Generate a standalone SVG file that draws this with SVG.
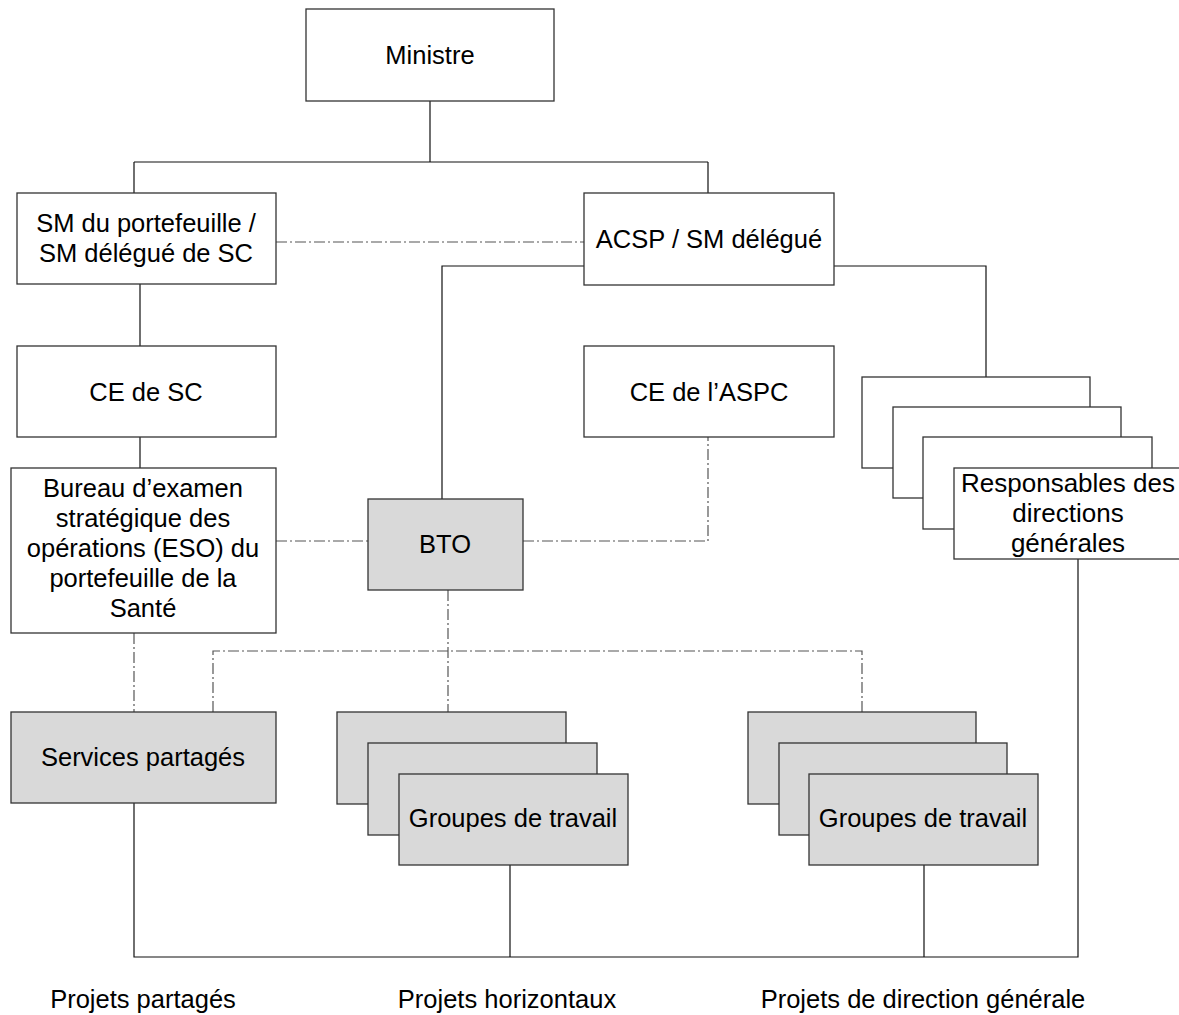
<svg xmlns="http://www.w3.org/2000/svg" width="1179" height="1015" viewBox="0 0 1179 1015">
<style>
.box{fill:#ffffff;stroke:#333333;stroke-width:1.3}
.g{fill:#d9d9d9;stroke:#333333;stroke-width:1.3}
.t{font-family:"Liberation Sans",Arial,sans-serif;font-size:25.5px;fill:#000000;text-anchor:middle}
.ln{fill:none;stroke:#111111;stroke-width:1.2}
.dd{fill:none;stroke:#555555;stroke-width:1.2;stroke-dasharray:11 3 2 3}
</style>
<rect width="1179" height="1015" fill="#ffffff"/>
<g id="connectors">
<path class="ln" d="M430 101V162M134 162H708M134 162V193M708 162V193"/>
<path class="ln" d="M140 284V346M140 437V468"/>
<path class="ln" d="M584 266H442V499M834 266H986V377"/>
<path class="ln" d="M134 803V957H1078V559M510 865V957M924 865V957"/>
<path class="dd" d="M276 242H584"/>
<path class="dd" d="M276 541H368M523 541H708V437"/>
<path class="dd" d="M448 590V712M134 633V712M213 712V651H862V712"/>
</g>
<g id="ministre"><rect class="box" x="306" y="9" width="248" height="92"/><text class="t" x="430" y="64">Ministre</text></g>
<g id="sm"><rect class="box" x="17" y="193" width="259" height="91"/><text class="t" x="146" y="232">SM du portefeuille /</text><text class="t" x="146" y="262">SM délégué de SC</text></g>
<g id="acsp"><rect class="box" x="584" y="193" width="250" height="92"/><text class="t" x="709" y="248">ACSP / SM délégué</text></g>
<g id="ce-sc"><rect class="box" x="17" y="346" width="259" height="91"/><text class="t" x="146" y="401">CE de SC</text></g>
<g id="ce-aspc"><rect class="box" x="584" y="346" width="250" height="91"/><text class="t" x="709" y="401">CE de l’ASPC</text></g>
<g id="bureau"><rect class="box" x="11" y="468" width="265" height="165"/>
<text class="t" x="143" y="497">Bureau d’examen</text>
<text class="t" x="143" y="527">stratégique des</text>
<text class="t" x="143" y="557">opérations (ESO) du</text>
<text class="t" x="143" y="587">portefeuille de la</text>
<text class="t" x="143" y="617">Santé</text></g>
<g id="bto"><rect class="g" x="368" y="499" width="155" height="91"/><text class="t" x="445" y="553">BTO</text></g>
<g id="responsables">
<rect class="box" x="862" y="377" width="228" height="91"/>
<rect class="box" x="893" y="407" width="228" height="91"/>
<rect class="box" x="923" y="437" width="229" height="92"/>
<rect class="box" x="954" y="468" width="230" height="91"/>
<text class="t" x="1068" y="492" style="font-size:26px">Responsables des</text>
<text class="t" x="1068" y="522" style="font-size:26px">directions</text>
<text class="t" x="1068" y="552" style="font-size:26px">générales</text></g>
<g id="services"><rect class="g" x="11" y="712" width="265" height="91"/><text class="t" x="143" y="766">Services partagés</text></g>
<g id="groupes-h">
<rect class="g" x="337" y="712" width="229" height="92"/>
<rect class="g" x="368" y="743" width="229" height="92"/>
<rect class="g" x="399" y="774" width="229" height="91"/>
<text class="t" x="513" y="827">Groupes de travail</text></g>
<g id="groupes-dg">
<rect class="g" x="748" y="712" width="228" height="92"/>
<rect class="g" x="779" y="743" width="228" height="92"/>
<rect class="g" x="809" y="774" width="229" height="91"/>
<text class="t" x="923" y="827">Groupes de travail</text></g>
<g id="labels">
<text class="t" x="143" y="1008">Projets partagés</text>
<text class="t" x="507" y="1008">Projets horizontaux</text>
<text class="t" x="923" y="1008">Projets de direction générale</text>
</g>
</svg>
